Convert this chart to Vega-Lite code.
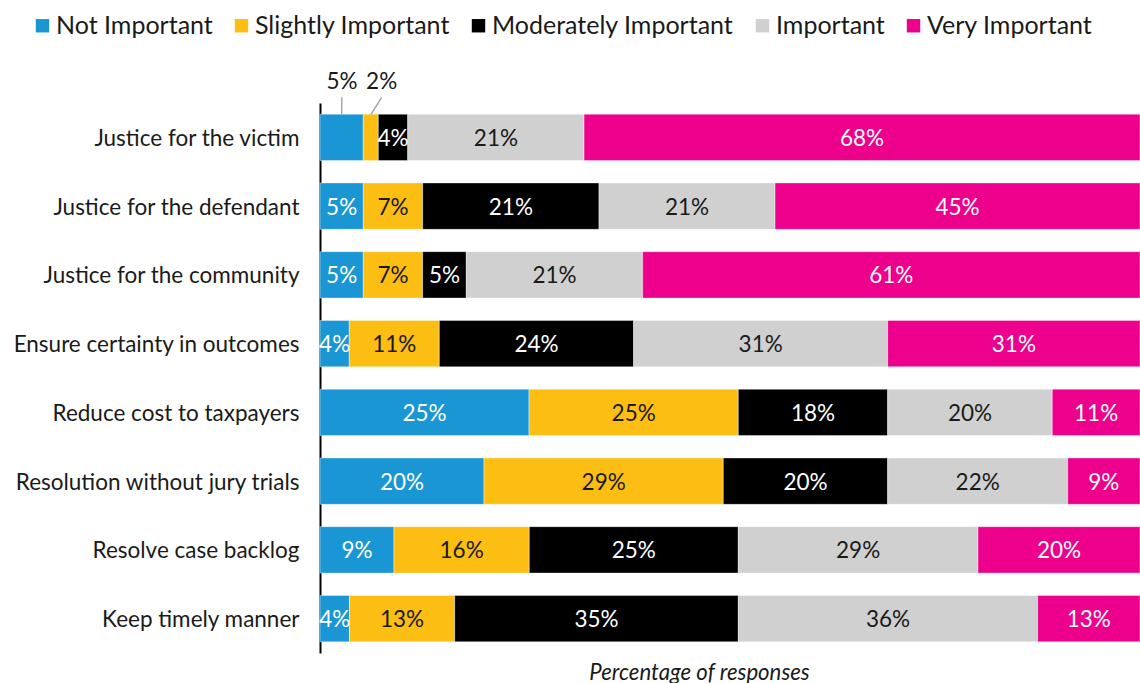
{
  "$schema": "https://vega.github.io/schema/vega-lite/v6.json",
  "width": 820,
  "height": 550,
  "autosize": {"type": "none"},
  "padding": {"left": 320, "top": 103, "right": 0, "bottom": 30},
  "background": "white",
  "config": {"font": "Lato", "view": {"stroke": null}},
  "datasets": {
    "responses": [
      {"task": "Justice for the victim", "level": "Not Important", "rank": 1, "value": 5.28, "label": ""},
      {"task": "Justice for the victim", "level": "Slightly Important", "rank": 2, "value": 1.83, "label": ""},
      {"task": "Justice for the victim", "level": "Moderately Important", "rank": 3, "value": 3.59, "label": "4%"},
      {"task": "Justice for the victim", "level": "Important", "rank": 4, "value": 21.5, "label": "21%"},
      {"task": "Justice for the victim", "level": "Very Important", "rank": 5, "value": 67.8, "label": "68%"},
      {"task": "Justice for the defendant", "level": "Not Important", "rank": 1, "value": 5.28, "label": "5%"},
      {"task": "Justice for the defendant", "level": "Slightly Important", "rank": 2, "value": 7.24, "label": "7%"},
      {"task": "Justice for the defendant", "level": "Moderately Important", "rank": 3, "value": 21.5, "label": "21%"},
      {"task": "Justice for the defendant", "level": "Important", "rank": 4, "value": 21.46, "label": "21%"},
      {"task": "Justice for the defendant", "level": "Very Important", "rank": 5, "value": 44.5, "label": "45%"},
      {"task": "Justice for the community", "level": "Not Important", "rank": 1, "value": 5.28, "label": "5%"},
      {"task": "Justice for the community", "level": "Slightly Important", "rank": 2, "value": 7.24, "label": "7%"},
      {"task": "Justice for the community", "level": "Moderately Important", "rank": 3, "value": 5.32, "label": "5%"},
      {"task": "Justice for the community", "level": "Important", "rank": 4, "value": 21.5, "label": "21%"},
      {"task": "Justice for the community", "level": "Very Important", "rank": 5, "value": 60.65, "label": "61%"},
      {"task": "Ensure certainty in outcomes", "level": "Not Important", "rank": 1, "value": 3.57, "label": "4%"},
      {"task": "Ensure certainty in outcomes", "level": "Slightly Important", "rank": 2, "value": 10.98, "label": "11%"},
      {"task": "Ensure certainty in outcomes", "level": "Moderately Important", "rank": 3, "value": 23.7, "label": "24%"},
      {"task": "Ensure certainty in outcomes", "level": "Important", "rank": 4, "value": 30.98, "label": "31%"},
      {"task": "Ensure certainty in outcomes", "level": "Very Important", "rank": 5, "value": 30.77, "label": "31%"},
      {"task": "Reduce cost to taxpayers", "level": "Not Important", "rank": 1, "value": 25.49, "label": "25%"},
      {"task": "Reduce cost to taxpayers", "level": "Slightly Important", "rank": 2, "value": 25.52, "label": "25%"},
      {"task": "Reduce cost to taxpayers", "level": "Moderately Important", "rank": 3, "value": 18.22, "label": "18%"},
      {"task": "Reduce cost to taxpayers", "level": "Important", "rank": 4, "value": 20.07, "label": "20%"},
      {"task": "Reduce cost to taxpayers", "level": "Very Important", "rank": 5, "value": 10.7, "label": "11%"},
      {"task": "Resolution without jury trials", "level": "Not Important", "rank": 1, "value": 20.0, "label": "20%"},
      {"task": "Resolution without jury trials", "level": "Slightly Important", "rank": 2, "value": 29.18, "label": "29%"},
      {"task": "Resolution without jury trials", "level": "Moderately Important", "rank": 3, "value": 20.05, "label": "20%"},
      {"task": "Resolution without jury trials", "level": "Important", "rank": 4, "value": 21.95, "label": "22%"},
      {"task": "Resolution without jury trials", "level": "Very Important", "rank": 5, "value": 8.82, "label": "9%"},
      {"task": "Resolve case backlog", "level": "Not Important", "rank": 1, "value": 9.02, "label": "9%"},
      {"task": "Resolve case backlog", "level": "Slightly Important", "rank": 2, "value": 16.5, "label": "16%"},
      {"task": "Resolve case backlog", "level": "Moderately Important", "rank": 3, "value": 25.49, "label": "25%"},
      {"task": "Resolve case backlog", "level": "Important", "rank": 4, "value": 29.23, "label": "29%"},
      {"task": "Resolve case backlog", "level": "Very Important", "rank": 5, "value": 19.76, "label": "20%"},
      {"task": "Keep timely manner", "level": "Not Important", "rank": 1, "value": 3.59, "label": "4%"},
      {"task": "Keep timely manner", "level": "Slightly Important", "rank": 2, "value": 12.84, "label": "13%"},
      {"task": "Keep timely manner", "level": "Moderately Important", "rank": 3, "value": 34.59, "label": "35%"},
      {"task": "Keep timely manner", "level": "Important", "rank": 4, "value": 36.51, "label": "36%"},
      {"task": "Keep timely manner", "level": "Very Important", "rank": 5, "value": 12.48, "label": "13%"}
    ],
    "callouts": [
      {"label": "5%", "tx": 0.0268, "ty": -0.327, "lx1": 0.0265, "ly1": -0.083, "lx2": 0.0265, "ly2": 0.164},
      {"label": "2%", "tx": 0.0752, "ty": -0.327, "lx1": 0.0752, "ly1": -0.083, "lx2": 0.0622, "ly2": 0.164}
    ]
  },
  "layer": [
    {
      "data": {"name": "responses"},
      "encoding": {
        "y": {
          "field": "task", "type": "nominal", "sort": null,
          "scale": {"paddingInner": 0.325, "paddingOuter": 0.1625},
          "axis": {
            "title": null, "ticks": false, "tickSize": 0, "labelPadding": 21, "labelLimit": 330,
            "labelFontSize": 22.5, "labelColor": "#1a1a1a", "labelFont": "Lato", "labelOffset": 1.5,
            "domainColor": "#000000", "domainWidth": 2, "grid": false
          }
        },
        "x": {
          "field": "value", "type": "quantitative", "stack": "normalize",
          "scale": {"domain": [0, 1], "nice": false},
          "axis": {
            "title": "Percentage of responses", "labels": false, "ticks": false,
            "domain": false, "grid": false, "titleFontSize": 22.2,
            "titleFontStyle": "italic", "titleFontWeight": "normal", "titleFont": "Lato",
            "titleColor": "#1a1a1a", "titleX": 379, "titleY": 19, "titleBaseline": "middle"
          }
        },
        "order": {"field": "rank", "type": "quantitative"}
      },
      "layer": [
        {
          "mark": {"type": "bar", "stroke": "white", "strokeWidth": 0.4},
          "encoding": {
            "color": {
              "field": "level", "type": "nominal",
              "scale": {
                "domain": ["Not Important", "Slightly Important", "Moderately Important", "Important", "Very Important"],
                "range": ["#1996D3", "#FDBE14", "#000000", "#D0D0D0", "#EC008C"]
              },
              "legend": {
                "orient": "none", "legendX": -290, "legendY": -90, "direction": "horizontal",
                "title": null, "symbolType": "square", "symbolSize": 180, "symbolStrokeWidth": 0,
                "labelFontSize": 25, "labelFont": "Lato", "labelColor": "#1a1a1a", "labelLimit": 400,
                "columnPadding": 16, "labelOffset": 1, "columns": 5
              }
            }
          }
        },
        {
          "mark": {"type": "text", "fontSize": 22.5, "baseline": "middle", "align": "center", "dy": 1.5},
          "encoding": {
            "x": {"field": "value", "type": "quantitative", "stack": "normalize", "bandPosition": 0.5},
            "detail": {"field": "level"},
            "text": {"field": "label"},
            "color": {
              "condition": {"test": "datum.level === 'Slightly Important' || datum.level === 'Important'", "value": "#1a1a1a"},
              "value": "#ffffff"
            }
          }
        }
      ]
    },
    {
      "data": {"name": "callouts"},
      "layer": [
        {
          "mark": {"type": "rule", "color": "#a6a6a6", "strokeWidth": 1.5},
          "encoding": {
            "x": {"field": "lx1", "type": "quantitative", "scale": {"domain": [0, 1], "nice": false}, "axis": null},
            "x2": {"field": "lx2"},
            "y": {"field": "ly1", "type": "quantitative", "scale": {"domain": [0, 8], "nice": false, "reverse": true, "zero": false}, "axis": null},
            "y2": {"field": "ly2"}
          }
        },
        {
          "mark": {"type": "text", "fontSize": 22.5, "baseline": "middle", "align": "center", "color": "#1a1a1a", "dy": 1.5},
          "encoding": {
            "x": {"field": "tx", "type": "quantitative", "scale": {"domain": [0, 1], "nice": false}, "axis": null},
            "y": {"field": "ty", "type": "quantitative", "scale": {"domain": [0, 8], "nice": false, "reverse": true, "zero": false}, "axis": null},
            "text": {"field": "label"}
          }
        }
      ]
    }
  ],
  "resolve": {"scale": {"x": "independent", "y": "independent"}}
}
